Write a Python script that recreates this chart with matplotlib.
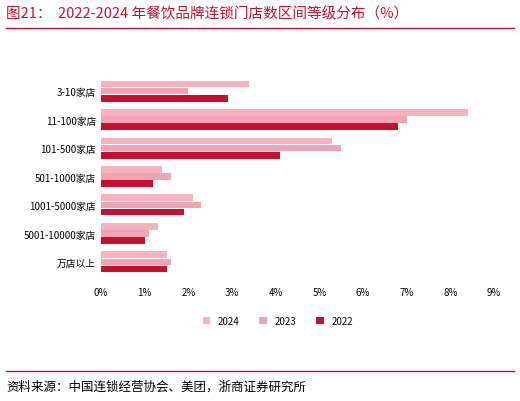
import matplotlib
matplotlib.use("Agg")
import matplotlib.pyplot as plt
import numpy as np

plt.rcParams['font.family'] = ['Noto Sans CJK SC', 'DejaVu Sans']

categories = ["3-10家店", "11-100家店", "101-500家店", "501-1000家店", "1001-5000家店", "5001-10000家店", "万店以上"]
v2024 = [3.4, 8.4, 5.3, 1.4, 2.1, 1.3, 1.5]
v2023 = [2.0, 7.0, 5.5, 1.6, 2.3, 1.1, 1.6]
v2022 = [2.9, 6.8, 4.1, 1.2, 1.9, 1.0, 1.5]
ticks = [0, 1, 2, 3, 4, 5, 6, 7, 8, 9]

W, H = 520, 402
fig = plt.figure(figsize=(W/100, H/100), dpi=100)
ax = fig.add_axes([101/W, 1-283/H, (494-101)/W, (283-72)/H])

y = np.arange(len(categories))
h = 0.23
ax.barh(y - h*1.1, v2024, height=h, color="#f5b3c0", label="2024")
ax.barh(y, v2023, height=h, color="#f0a3b3", label="2023")
ax.barh(y + h*1.1, v2022, height=h, color="#c8102e", label="2022")
ax.set_yticks(y)
ax.set_yticklabels(categories, fontsize=7)
ax.invert_yaxis()
ax.set_xlim(0, 9)
ax.set_xticks(ticks)
ax.set_xticklabels([f"{t}%" for t in ticks], fontsize=7)
for s in ax.spines.values():
    s.set_visible(False)
ax.tick_params(length=0)
ax.legend(loc="upper center", bbox_to_anchor=(0.45, -0.12), ncol=3, frameon=False,
          fontsize=7, handlelength=0.8, handleheight=0.8)

fig.text(6/W, 1-14/H, "图21：  2022-2024 年餐饮品牌连锁门店数区间等级分布（%）", color="#c8102e",
         fontsize=10.5, va="center")
fig.add_artist(plt.Line2D([6/W, 514/W], [1-29/H, 1-29/H], color="#c8102e", lw=1))
fig.add_artist(plt.Line2D([6/W, 514/W], [1-372/H, 1-372/H], color="#c8102e", lw=1))
fig.text(6/W, 1-387/H, "资料来源：中国连锁经营协会、美团，浙商证券研究所", fontsize=9, va="center")
fig.savefig("out.png", dpi=100)
